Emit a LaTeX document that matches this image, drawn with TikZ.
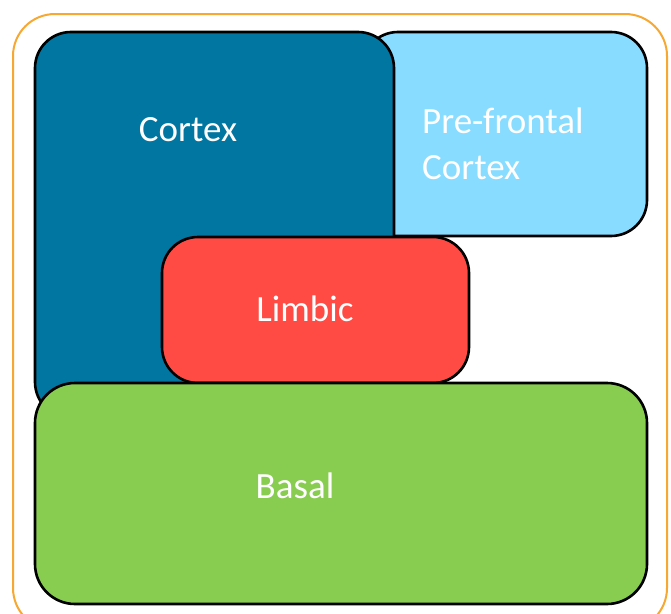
\documentclass[tikz,border=0pt]{standalone}
\usepackage{fontspec}
\setmainfont{Carlito}
\usetikzlibrary{positioning}

\definecolor{cortexblue}{RGB}{0,118,160}
\definecolor{frontalblue}{RGB}{135,220,255}
\definecolor{limbicred}{RGB}{255,75,68}
\definecolor{basalgreen}{RGB}{136,204,80}
\definecolor{frameorange}{RGB}{247,168,51}

\tikzset{
  region/.style={draw=black,line width=2.6pt,rounded corners=36pt},
  label/.style={text=white,font=\fontsize{37}{46}\selectfont,inner sep=0pt}
}

\begin{document}
\begin{tikzpicture}[x=1pt,y=-1pt]
\useasboundingbox (0,0) rectangle (671,613);
\begin{scope}
\clip (0,0) rectangle (671,613);
% outer frame
\draw[frameorange,line width=2pt,rounded corners=42pt] (13,14) rectangle (667,630);
\end{scope}
% the four parts, back to front
\draw[region,fill=frontalblue] (362,32) rectangle (647,236);
\draw[region,fill=cortexblue] (35,32) rectangle (394,418);
\draw[region,fill=limbicred] (162,237) rectangle (469,383);
\draw[region,fill=basalgreen,rounded corners=40pt] (35,383) rectangle (647,604);
% names
\node[label,anchor=base] (cortex) at (188,141) {Cortex};
\node[label,anchor=north west,align=left] (prefrontal) at (422,108) {Pre-frontal\\Cortex};
\node[label,anchor=base] (limbic) at (305,321) {Limbic};
\node[label,anchor=base] (basal) at (295,498) {Basal};
\end{tikzpicture}
\end{document}
